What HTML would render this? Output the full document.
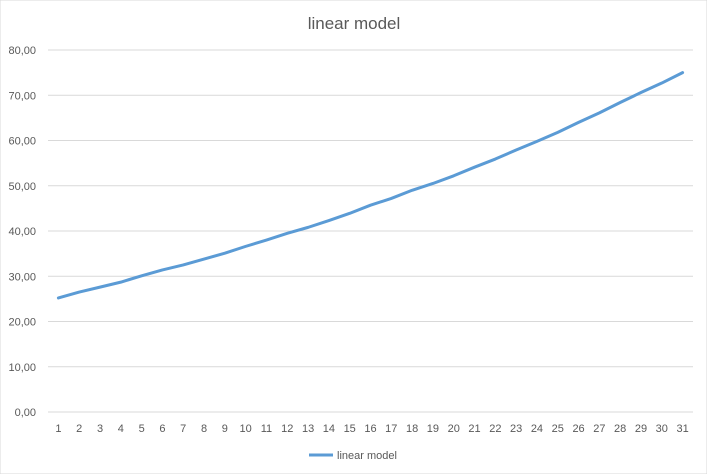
<!DOCTYPE html>
<html><head><meta charset="utf-8"><style>
body{margin:0;background:#fff;font-family:"Liberation Sans",sans-serif}
svg{display:block}
</style></head><body>
<svg id="chart" width="707" height="474">
<rect x="0" y="0" width="707" height="474" fill="#fff" stroke="#d9d9d9"/>
<text x="354" y="29" text-anchor="middle" font-size="17" fill="#595959">linear model</text>
<g id="grid"></g><g id="yt"></g><g id="xt"></g><g id="series"></g>
<g>
<line x1="309" y1="455" x2="333" y2="455" stroke="#5b9bd5" stroke-width="3"/>
<text x="337" y="459" font-size="11" fill="#595959">linear model</text>
</g>
</svg>
<script>
const categories=[1,2,3,4,5,6,7,8,9,10,11,12,13,14,15,16,17,18,19,20,21,22,23,24,25,26,27,28,29,30,31];
const values=[25.2,26.5,27.6,28.7,30.1,31.4,32.5,33.8,35.1,36.6,38.0,39.5,40.8,42.3,43.9,45.7,47.2,49.0,50.5,52.2,54.1,55.9,57.9,59.8,61.8,64.0,66.1,68.4,70.6,72.7,75.0];
const yTicks=[0,10,20,30,40,50,60,70,80];
const yTickLabels=["0,00","10,00","20,00","30,00","40,00","50,00","60,00","70,00","80,00"];
const NS="http://www.w3.org/2000/svg";
const x0=48,x1=693,yTop=50,yBot=412;
const step=(x1-x0)/categories.length;
const xs=i=>x0+step*(i+0.5);
const ys=v=>yBot-(v/80)*(yBot-yTop);
function mk(t,a,p){const e=document.createElementNS(NS,t);for(const k in a)e.setAttribute(k,a[k]);p.appendChild(e);return e;}
const grid=document.getElementById('grid'),yt=document.getElementById('yt'),xt=document.getElementById('xt'),ser=document.getElementById('series');
yTicks.forEach((v,i)=>{
 const l=mk('line',{x1:x0,x2:x1,y1:ys(v),y2:ys(v),stroke:'#d9d9d9','stroke-width':1},grid);
 
 
 const t=mk('text',{x:36,y:ys(v)+4,'text-anchor':'end','font-size':11,fill:'#595959'},yt);
 t.textContent=yTickLabels[i];
 
 
});
categories.forEach((c,i)=>{
 const t=mk('text',{x:xs(i),y:432,'text-anchor':'middle','font-size':11,fill:'#595959'},xt);
 t.textContent=c;
 
 
});
const p=mk('polyline',{points:values.map((v,i)=>xs(i)+','+ys(v)).join(' '),fill:'none',stroke:'#5b9bd5','stroke-width':3,'stroke-linejoin':'round','stroke-linecap':'round'},ser);


</script>
</body></html>
